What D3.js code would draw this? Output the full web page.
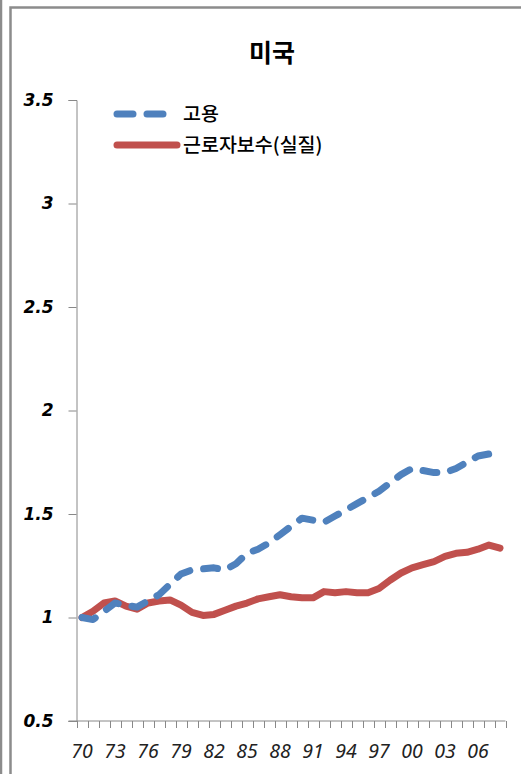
<!DOCTYPE html>
<html>
<head>
<meta charset="utf-8">
<script src="https://cdn.jsdelivr.net/npm/d3@7"></script>
<style>
  body { margin: 0; background: #fff; }
  svg { display: block; }
</style>
</head>
<body>
<script>
//chart data
var years = ["70","71","72","73","74","75","76","77","78","79","80","81","82","83","84","85","86","87","88","89",
             "90","91","92","93","94","95","96","97","98","99","00","01","02","03","04","05","06","07","08"];
var employment = [1.00,0.99,1.03,1.07,1.06,1.05,1.08,1.11,1.16,1.21,1.23,1.235,1.24,1.23,1.26,1.31,1.33,1.36,1.40,1.44,
                  1.48,1.47,1.46,1.49,1.52,1.55,1.58,1.61,1.65,1.69,1.72,1.71,1.70,1.70,1.72,1.75,1.78,1.79,1.78];
var wages = [1.00,1.03,1.07,1.08,1.055,1.04,1.07,1.08,1.085,1.06,1.025,1.01,1.015,1.035,1.055,1.07,1.09,1.10,1.11,1.10,
             1.095,1.095,1.125,1.12,1.125,1.12,1.12,1.14,1.18,1.215,1.24,1.255,1.27,1.295,1.31,1.315,1.33,1.35,1.335];
var yTicks = [0.5, 1, 1.5, 2, 2.5, 3, 3.5];
var xLabels = ["70","73","76","79","82","85","88","91","94","97","00","03","06"];
var seriesNames = ["고용", "근로자보수(실질)"];

(function draw(){
  var width = 521, height = 774;
  var left = 76.5, right = 505.5, top = 100, bottom = 721;

  var svg = d3.select("body").append("svg")
    .attr("width", width)
    .attr("height", height);

  //outer frame lines
  svg.append("line")
    .attr("x1", 1).attr("x2", 1).attr("y1", 0).attr("y2", height)
    .attr("stroke", "#8c8c8c").attr("stroke-width", 2.5);
  svg.append("path")
    .attr("d", "M10.5," + height + "V7.5H" + (width + 5))
    .attr("fill", "none")
    .attr("stroke", "#8c8c8c").attr("stroke-width", 2.5);

  //title
  svg.append("text")
    .attr("x", 272).attr("y", 62)
    .attr("text-anchor", "middle")
    .style("font-family", "'Noto Sans CJK KR', sans-serif")
    .style("font-weight", "bold")
    .style("font-size", "25px")
    .text("미국");

  var x = d3.scaleBand().domain(years).range([left, right]);
  var y = d3.scaleLinear().domain([0.5, 3.5]).range([bottom, top]);

  //y axis
  var yAxis = svg.append("g")
    .attr("transform", "translate(" + left + ",0)")
    .call(d3.axisLeft(y).tickValues(yTicks).tickSize(8).tickPadding(15)
      .tickFormat(function(d){ return String(d); }));
  yAxis.select(".domain").attr("stroke", "#888");
  yAxis.selectAll(".tick line").attr("stroke", "#888");
  yAxis.selectAll("text")
    .attr("fill", "#000")
    .style("font-family", "'DejaVu Sans', sans-serif")
    .style("font-weight", "bold")
    .style("font-style", "italic")
    .style("font-size", "17px");

  //x axis with ticks between categories
  var xg = svg.append("g").attr("transform", "translate(0," + bottom + ")");
  xg.append("line")
    .attr("x1", left - 8).attr("x2", right)
    .attr("stroke", "#888");
  var bounds = years.map(function(d){ return x(d); }).concat([right]);
  xg.selectAll(".xtick")
    .data(bounds)
    .enter()
    .append("line")
    .attr("class", "xtick")
    .attr("x1", function(d){ return Math.round(d) + 0.5; })
    .attr("x2", function(d){ return Math.round(d) + 0.5; })
    .attr("y1", 0).attr("y2", 7)
    .attr("stroke", "#888");
  xg.selectAll(".xlab")
    .data(xLabels)
    .enter()
    .append("text")
    .attr("class", "xlab")
    .attr("x", function(d){ return x(d) + x.bandwidth() / 2; })
    .attr("y", 37)
    .attr("text-anchor", "middle")
    .attr("fill", "#222")
    .style("font-family", "'Noto Sans', sans-serif")
    .style("font-style", "italic")
    .style("font-size", "19.5px")
    .text(function(d){ return d; });

  var line = d3.line()
    .x(function(d, i){ return x(years[i]) + x.bandwidth() / 2; })
    .y(function(d){ return y(d); });

  //wages line (solid red)
  svg.append("path")
    .datum(wages)
    .attr("d", line)
    .attr("fill", "none")
    .attr("stroke", "#C0504D")
    .attr("stroke-width", 7)
    .attr("stroke-linecap", "round")
    .attr("stroke-linejoin", "round");

  //employment line (dashed blue)
  svg.append("path")
    .datum(employment)
    .attr("d", line)
    .attr("fill", "none")
    .attr("stroke", "#4F81BD")
    .attr("stroke-width", 7)
    .attr("stroke-dasharray", "14 14")
    .attr("stroke-linecap", "round")
    .attr("stroke-linejoin", "round");

  //legend
  var legend = svg.append("g");
  legend.append("line")
    .attr("x1", 117).attr("x2", 164).attr("y1", 114).attr("y2", 114)
    .attr("stroke", "#4F81BD").attr("stroke-width", 7)
    .attr("stroke-linecap", "round")
    .attr("stroke-dasharray", "16 14");
  legend.append("line")
    .attr("x1", 117).attr("x2", 177).attr("y1", 145).attr("y2", 145)
    .attr("stroke", "#C0504D").attr("stroke-width", 7)
    .attr("stroke-linecap", "round");
  legend.selectAll(".legtext")
    .data(seriesNames)
    .enter()
    .append("text")
    .attr("class", "legtext")
    .attr("x", 183)
    .attr("y", function(d, i){ return 121 + i * 31; })
    .style("font-family", "'Noto Sans CJK KR', sans-serif")
    .style("font-weight", "500")
    .style("font-size", "19.5px")
    .text(function(d){ return d; });
})();
</script>
</body>
</html>
